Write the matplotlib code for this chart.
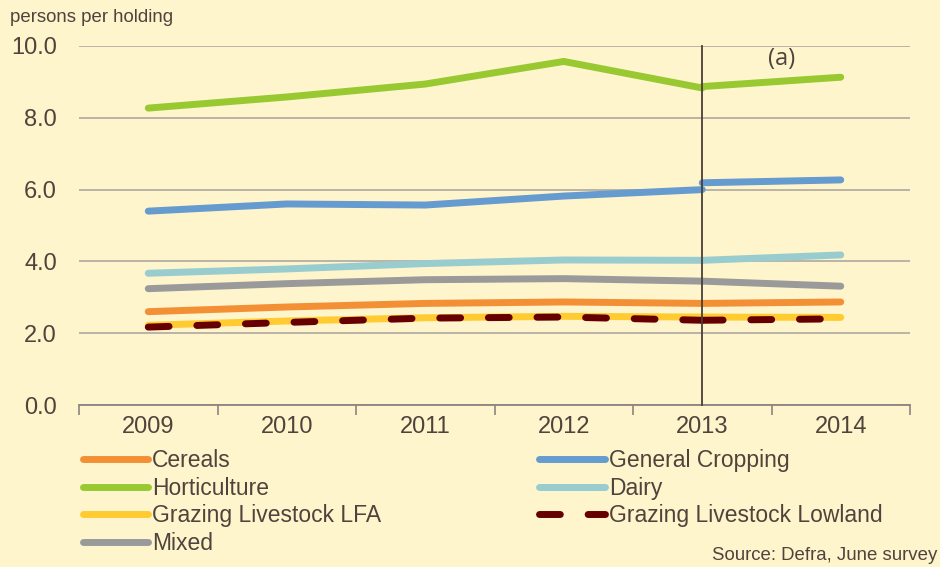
import matplotlib.pyplot as plt

plt.rcParams['font.family'] = ['Liberation Sans', 'DejaVu Sans']

years = ['2009', '2010', '2011', '2012', '2013', '2014']

# values 2009-2013 on the old basis, then 2013-2014 on the new basis (a)
cereals = [2.60, 2.73, 2.83, 2.87, 2.83]
cereals_new = [2.83, 2.87]
general_cropping = [5.40, 5.60, 5.57, 5.82, 6.00]
general_cropping_new = [6.19, 6.27]
horticulture = [8.27, 8.58, 8.94, 9.57, 8.83]
horticulture_new = [8.87, 9.13]
dairy = [3.67, 3.79, 3.94, 4.04, 4.03]
dairy_new = [4.03, 4.18]
lfa = [2.22, 2.34, 2.43, 2.47, 2.45]
lfa_new = [2.45, 2.44]
lowland = [2.17, 2.30, 2.42, 2.45, 2.36]
lowland_new = [2.36, 2.40]
mixed = [3.24, 3.38, 3.49, 3.52, 3.45]
mixed_new = [3.45, 3.31]

bg = '#FEF5CD'
txt = '#4F443C'

fig = plt.figure(figsize=(9.4, 5.67), dpi=100, facecolor=bg)
ax = fig.add_axes([79 / 940, 1 - 405 / 567, 831 / 940, 359 / 567], facecolor=bg)

x_old = list(range(5))
x_new = [4, 5]

series = [
    ('Cereals', cereals, cereals_new, '#F39035', '-'),
    ('General Cropping', general_cropping, general_cropping_new, '#659BCF', '-'),
    ('Horticulture', horticulture, horticulture_new, '#98C930', '-'),
    ('Dairy', dairy, dairy_new, '#98CCCF', '-'),
    ('Mixed', mixed, mixed_new, '#9A9A9A', '-'),
    ('Grazing Livestock LFA', lfa, lfa_new, '#FFCB30', '-'),
    ('Grazing Livestock Lowland', lowland, lowland_new, '#660000', '--'),
]

handles = {}
for name, old, new, col, ls in series:
    kw = dict(color=col, lw=5, solid_capstyle='round', dash_capstyle='round', zorder=3)
    if ls == '--':
        kw['dashes'] = (3, 4)
    h, = ax.plot(x_old, old, label=name, **kw)
    ax.plot(x_new, new, **kw)
    handles[name] = h

# break line at 2013
ax.plot([4, 4], [0, 10], color='#4A3F38', lw=1.3, zorder=4, clip_on=False)
ax.text(4.57, 9.65, '(a)', ha='center', va='center', fontsize=17, color=txt,
        family=['Open Sans', 'DejaVu Sans'])

ax.set_xlim(-0.5, 5.5)
ax.set_ylim(0, 10)
ax.set_yticks([0, 2, 4, 6, 8, 10])
ax.set_yticklabels(['0.0', '2.0', '4.0', '6.0', '8.0', '10.0'], fontsize=17, color=txt)
ax.yaxis.grid(True, color='#B5AFA3', lw=1.3)
ax.set_axisbelow(True)
ax.tick_params(axis='y', length=0, pad=16)

ax.set_xticks(range(6))
ax.set_xticklabels(years, fontsize=17, color=txt)
ax.set_xticks([i - 0.5 for i in range(7)], minor=True)
ax.tick_params(axis='x', which='major', length=0, pad=8)
ax.tick_params(axis='x', which='minor', length=7, color='#8A8580', width=1.2)

for s in ['left', 'right', 'top']:
    ax.spines[s].set_visible(False)
ax.spines['bottom'].set_color('#8A8580')
ax.spines['bottom'].set_linewidth(1.3)

fig.text(10 / 940, 1 - 18 / 567, 'persons per holding', fontsize=13.4, color=txt,
         va='center', ha='left')

order = ['Cereals', 'Horticulture', 'Grazing Livestock LFA', 'Mixed',
         'General Cropping', 'Dairy', 'Grazing Livestock Lowland']
leg = fig.legend([handles[n] for n in order], order, ncol=2,
                 loc='upper left', bbox_to_anchor=(83 / 940, 1 - 449 / 567),
                 frameon=False, fontsize=16.5, handlelength=2.85, handletextpad=0.17,
                 labelspacing=0.2, columnspacing=6.9, borderaxespad=0, borderpad=0)
for t in leg.get_texts():
    t.set_color(txt)

fig.text(937 / 940, 1 - 556 / 567, 'Source: Defra, June survey', fontsize=13.4,
         color=txt, ha='right', va='center')

fig.savefig('out.png', dpi=100, facecolor=bg)
